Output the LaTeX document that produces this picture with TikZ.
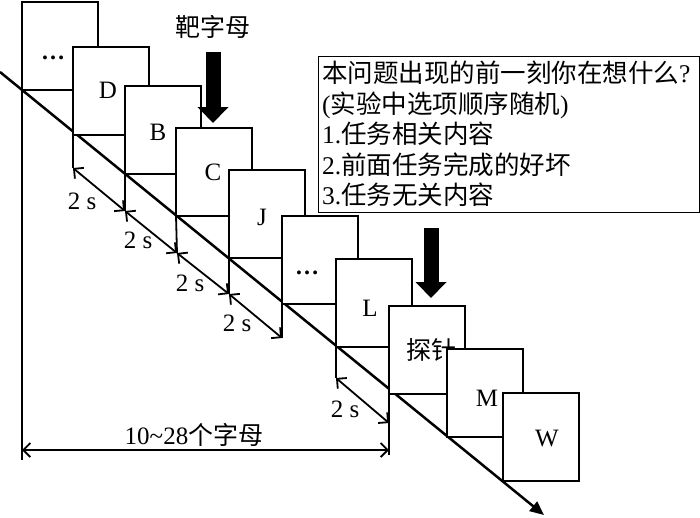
\documentclass[tikz,border=0pt]{standalone}
\usepackage{fontspec}
\setmainfont{Liberation Serif}
\newfontfamily\cjk{Noto Sans CJK SC}
\usetikzlibrary{arrows.meta}
\begin{document}
\begin{tikzpicture}[x=1pt,y=-1pt,
  card/.style={draw,fill=white,line width=2pt,minimum width=75.5pt,minimum height=88pt,inner sep=0pt,outer sep=0pt,anchor=north west},
  lbl/.style={font=\fontsize{25}{28}\selectfont,inner sep=0pt},
  cjklbl/.style={font=\fontsize{25}{30}\selectfont\cjk,inner sep=0pt},
  ext/.style={line width=1.8pt},
  dim/.style={line width=1.8pt,{Straight Barb[length=7pt,width=14pt]}-{Straight Barb[length=7pt,width=14pt]}},
  bigarrow/.style={line width=15pt,-{Triangle[length=16pt,width=30pt]}},
]
\useasboundingbox (0,0) rectangle (700,517);

% main time line
\coordinate (ls) at (0,72);
\coordinate (le) at (544,515);
\draw[line width=2.5pt,-{Triangle[length=14pt,width=12pt]}] (ls) -- (le);

% cards
\node[card] (b1) at (22,2) {};
\node[lbl,font=\fontsize{24}{28}\selectfont\bfseries] (t1) at (53,58) {…};
\node[card] (b2) at (73,47) {};
\node[lbl] (t2) at (108,90) {D};
\node[card] (b3) at (125,86) {};
\node[lbl] (t3) at (158,132) {B};
\node[card] (b4) at (176,128) {};
\node[lbl] (t4) at (213,172) {C};
\node[card] (b5) at (229,170) {};
\node[lbl] (t5) at (262,217) {J};
\node[card] (b6) at (282,216) {};
\node[lbl,font=\fontsize{24}{28}\selectfont\bfseries] (t6) at (307,273) {…};
\node[card] (b7) at (336,259) {};
\node[lbl] (t7) at (370,308) {L};
\node[card] (b8) at (389,306) {};
\node[cjklbl] (t8) at (431,350) {探针};
\node[card] (b9) at (447,349) {};
\node[lbl] (t9) at (487,398) {M};
\node[card] (b10) at (503,393) {};
\node[lbl] (t10) at (547,438) {W};

% extension lines
\coordinate (e1) at (22,460);
\coordinate (e2) at (73,168);
\coordinate (e3) at (125,211);
\coordinate (e4) at (177,253);
\coordinate (e5) at (229,294);
\coordinate (e6) at (282,338);
\coordinate (e7) at (336,378);
\coordinate (e8) at (389,423);
\coordinate (e8b) at (389,455);
\draw[ext] (b1.south west) -- (e1);
\draw[ext] (b2.south west) -- (e2);
\draw[ext] (b3.south west) -- (e3);
\draw[ext] (b4.south west) -- (e4);
\draw[ext] (b5.south west) -- (e5);
\draw[ext] (b6.south west) -- (e6);
\draw[ext] (b7.south west) -- (e7);
\draw[ext] (b8.south west) -- (e8b);

% 2 s dimensions
\draw[dim] (e2) -- (e3);
\draw[dim] (e3) -- (e4);
\draw[dim] (e4) -- (e5);
\draw[dim] (e5) -- (e6);
\draw[dim] (e7) -- (e8);
\node[lbl] (d1) at (82,201) {2 s};
\node[lbl] (d2) at (138,240) {2 s};
\node[lbl] (d3) at (190,283) {2 s};
\node[lbl] (d4) at (237,323) {2 s};
\node[lbl] (d5) at (345,409) {2 s};

% overall dimension
\coordinate (h1) at (22,450);
\coordinate (h2) at (389,450);
\draw[dim] (h1) -- (h2);
\node[lbl] (hl) at (194,435) {10\textasciitilde 28{\cjk 个字母}};

% target / probe arrows
\node[cjklbl] (target) at (213,27) {靶字母};
\coordinate (ta) at (213,52);
\coordinate (tb) at (213,123);
\draw[bigarrow] (ta) -- (tb);
\coordinate (pa) at (431,228);
\coordinate (pb) at (431,298);
\draw[bigarrow] (pa) -- (pb);

% question box
\node[draw,line width=1.3pt,anchor=north west,minimum width=381pt,minimum height=156pt,inner sep=0pt] (q) at (318,56) {};
\node[anchor=north west,align=left,inner sep=0pt,font=\fontsize{25.5}{30.5}\selectfont] (qt) at (322,61)
 {{\cjk 本问题出现的前一刻你在想什么}?\\
  ({\cjk 实验中选项顺序随机})\\
  1.{\cjk 任务相关内容}\\
  2.{\cjk 前面任务完成的好坏}\\
  3.{\cjk 任务无关内容}};
\end{tikzpicture}
\end{document}
